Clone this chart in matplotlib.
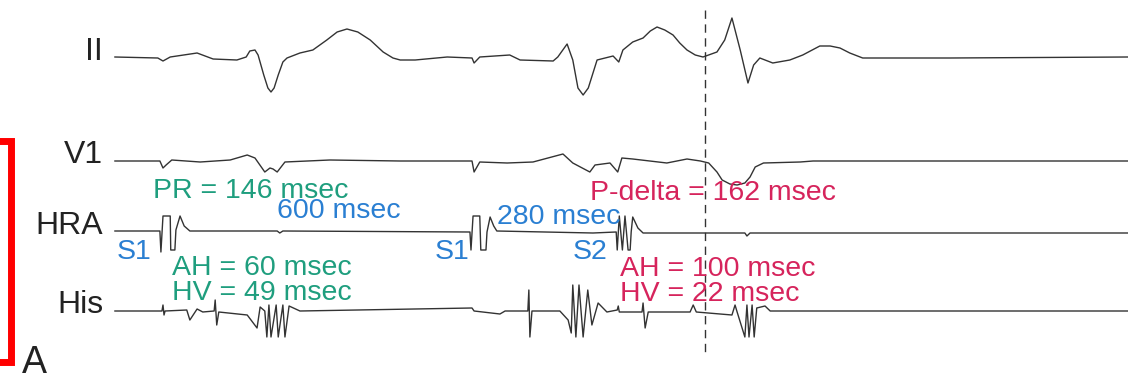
import matplotlib.pyplot as plt

plt.rcParams['font.family'] = ['Liberation Sans', 'DejaVu Sans']

ii_t = [-93, -10, 0, 14, 66, 97, 143, 161, 168, 178, 184, 195, 203, 209, 215, 223, 232, 240,
        265, 290, 317, 337, 356, 377, 401, 426, 445, 459, 488, 550, 598, 602, 613, 671, 691,
        755, 764, 782, 793, 803, 813, 823, 840, 871, 882, 890, 909, 929, 943, 956, 971, 987,
        1000, 1014, 1030, 1045, 1072, 1087, 1101, 1117, 1132, 1143, 1155, 1180, 1213, 1238,
        1271, 1291, 1310, 1329, 1354, 1523, 1867]
ii_v = [1, 0, -3, 1, 5, -1, -2, 1, 7, 8, 3, -17, -30, -34, -30, -17, -4, 0,
        5, 8, 18, 26, 29, 26, 18, 6, 0, -2, -2, 1, 0, -5, 1, 3, -2,
        -3, 1, 14, -2, -30, -37, -30, -2, 2, -4, 8, 16, 20, 27, 31, 28, 23,
        15, 8, 3, 1, 6, 18, 40, 8, -25, -7, 0, -5, -2, 3,
        12, 12, 10, 5, 0, 0, 1]

v1_t = [-93, -6, 0, 6, 17, 72, 130, 163, 178, 197, 207, 213, 221, 236, 323, 459, 598, 602, 613,
        666, 716, 774, 793, 826, 836, 865, 880, 888, 909, 975, 1014, 1040, 1056, 1072, 1082,
        1097, 1111, 1126, 1136, 1146, 1162, 1233, 1258, 1867]
v1_v = [0, 0, -7, -4, 1, -1, 1, 6, 3, -11, -7, -8, -11, -1, 1, 0, 0, -11, -1,
        -2, -1, 7, -2, -11, -4, -2, -11, 3, 2, -2, 2, 0, -2, -11, -19,
        -23, -24, -22, -16, -6, -2, -1, 0, 0]

hra_t = [-93, -6, -4, 0, 14, 15, 23, 25, 33, 41, 52, 221, 226, 232, 594, 596, 600, 613, 615, 625,
         627, 633, 640, 646, 832, 877, 879, 883, 889, 894, 900, 904, 906, 909, 919, 929, 1126,
         1130, 1136, 1867]
hra_v = [1, 1, -20, 16, 16, -18, -18, 2, 16, 6, 1, 1, -1, 1, 0, -18, 16, 16, -18, -18,
         0, 15, 6, 1, -1, 0, -18, 16, -18, 16, -18, -18, 0, 15, 4, -1, -1,
         -4, -1, -1]

his_t = [-93, -2, 0, 2, 4, 46, 52, 66, 77, 99, 101, 104, 108, 163, 182, 188, 197, 201, 205, 209,
         219, 223, 232, 236, 244, 265, 598, 602, 652, 662, 706, 708, 710, 714, 768, 784, 790, 793,
         799, 805, 813, 822, 830, 842, 859, 879, 881, 883, 927, 929, 933, 939, 1020, 1026, 1032,
         1101, 1107, 1111, 1126, 1130, 1134, 1140, 1144, 1149, 1165, 1175, 1867]
his_v = [0, 0, 6, -4, 0, 1, -9, 2, -1, 0, 11, -14, -1, -4, -17, 4, 0, -26, 6, -26,
         6, -26, 6, -26, 5, 0, 3, 0, -3, 0, 0, 21, -26, 0, 0, -9, -22, 26,
         -26, 26, -26, 21, -14, 8, -1, 1, 5, -1, -1, 8, -17, -1, -1, 6, -1,
         -4, 6, -1, -26, 6, -26, 6, -26, 3, 5, 0, 0]

lead_names = ['II', 'V1', 'HRA', 'His']
baselines = [-58, -161, -232, -311]
marker_time = 1049

green = '#1f9e7e'
blue = '#2a7fd2'
red = '#d6245c'

fig = plt.figure(figsize=(11.28, 3.79), dpi=100)
ax = fig.add_axes([0, 0, 1, 1])
ax.set_xlim(-315.4, 1867.4)
ax.set_ylim(-379, 0)
ax.axis('off')

traces = [(ii_t, ii_v), (v1_t, v1_v), (hra_t, hra_v), (his_t, his_v)]
for (t, v), base, name in zip(traces, baselines, lead_names):
    ax.plot(t, [base + a for a in v], color='#333333', lw=1.0)
    ax.text(-116, base - 2, name, ha='right', va='baseline', fontsize=23, color='#222222')

# dashed reference line at delta-wave onset
ax.plot([marker_time, marker_time], [-10, -355], color='#333333', lw=1.0, dashes=(6, 4))

# interval annotations
fs = 20.5
ax.text(-19, -198, 'PR = 146 msec', color=green, fontsize=fs, va='baseline')
ax.text(17, -275, 'AH = 60 msec', color=green, fontsize=fs, va='baseline')
ax.text(17, -300, 'HV = 49 msec', color=green, fontsize=fs, va='baseline')
ax.text(221, -218, '600 msec', color=blue, fontsize=fs, va='baseline')
ax.text(646, -224, '280 msec', color=blue, fontsize=fs, va='baseline')
ax.text(-89, -259, 'S1', color=blue, fontsize=fs, va='baseline')
ax.text(526, -259, 'S1', color=blue, fontsize=fs, va='baseline')
ax.text(793, -259, 'S2', color=blue, fontsize=fs, va='baseline')
ax.text(826, -200, 'P-delta = 162 msec', color=red, fontsize=fs, va='baseline')
ax.text(884, -276, 'AH = 100 msec', color=red, fontsize=fs, va='baseline')
ax.text(884, -301, 'HV = 22 msec', color=red, fontsize=fs, va='baseline')

# panel bracket and label
ax.plot([-320, -294, -294, -320], [-141, -141, -362, -362], color='#ff0000', lw=5,
        solid_joinstyle='miter', clip_on=False)
ax.text(-273, -373, 'A', fontsize=27, color='#222222', va='baseline')

fig.savefig('out.png', dpi=100)
